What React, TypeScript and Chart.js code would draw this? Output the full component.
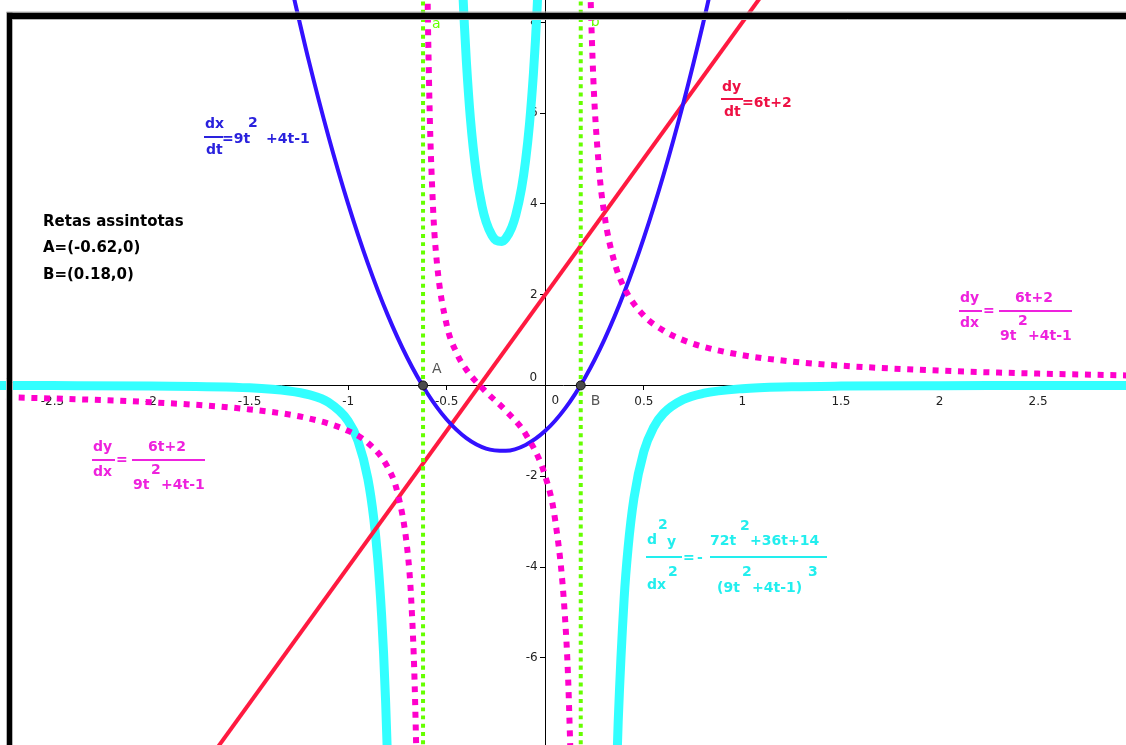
import React, { useEffect, useRef } from 'react';
import { Chart, registerables } from 'chart.js';

Chart.register(...registerables);

// ---- data ----
// dx/dt = 9t^2+4t-1 (blue parabola)
const parabolaX = [-1.3, -1.2, -1.1, -1.0, -0.9, -0.8, -0.7, -0.6, -0.5, -0.4, -0.3, -0.2, -0.1, 0, 0.1, 0.2, 0.3, 0.4, 0.5, 0.6, 0.7, 0.8, 0.9];
const parabolaY = [9.01, 7.16, 5.49, 4.0, 2.69, 1.56, 0.61, -0.16, -0.75, -1.16, -1.39, -1.44, -1.31, -1.0, -0.51, 0.16, 1.01, 2.04, 3.25, 4.64, 6.21, 7.96, 9.89];

// dy/dt = 6t+2 (red line)
const lineX = [-2.8, 3.0];
const lineY = [-14.8, 20];

// dy/dx (magenta dotted), three branches
const slopeLeftX = [-2.8, -2.5, -2.0, -1.5, -1.2, -1.0, -0.9, -0.8, -0.75, -0.7, -0.68, -0.66, -0.65, -0.64];
const slopeLeftY = [-0.254, -0.287, -0.37, -0.528, -0.726, -1.0, -1.264, -1.795, -2.353, -3.607, -4.71, -6.99, -9.38, -14.56];
const slopeMidX = [-0.61, -0.6, -0.59, -0.57, -0.55, -0.5, -0.45, -0.4, -0.3, -0.2, -0.1, 0, 0.05, 0.1, 0.12, 0.14, 0.15];
const slopeMidY = [18.2, 10.0, 6.78, 3.99, 2.72, 1.333, 0.716, 0.345, -0.144, -0.556, -1.069, -2.0, -2.958, -5.098, -6.967, -10.77, -14.68];
const slopeRightX = [0.19, 0.2, 0.21, 0.22, 0.24, 0.27, 0.3, 0.35, 0.4, 0.5, 0.6, 0.7, 0.8, 1.0, 1.25, 1.5, 2.0, 2.5, 3.0];
const slopeRightY = [36.98, 20.0, 13.76, 10.52, 7.19, 4.918, 3.762, 2.729, 2.157, 1.538, 1.207, 0.998, 0.854, 0.667, 0.526, 0.436, 0.326, 0.261, 0.217];

// d2y/dx2 (cyan thick), three branches
const curvLeftX = [-2.8, -2.5, -2.0, -1.5, -1.3, -1.2, -1.1, -1.0, -0.95, -0.9, -0.87, -0.85, -0.83, -0.82, -0.81, -0.8, -0.78];
const curvLeftY = [-0.0024, -0.004, -0.0117, -0.0525, -0.1215, -0.2029, -0.3718, -0.781, -1.221, -2.051, -2.931, -3.811, -5.074, -5.915, -6.951, -8.24, -11.93];
const curvMidX = [-0.45, -0.42, -0.41, -0.4, -0.38, -0.35, -0.32, -0.3, -0.27, -0.25, -0.22, -0.2, -0.17, -0.15, -0.12, -0.1, -0.08, -0.06, -0.05, -0.04, -0.03];
const curvMidY = [13.25, 8.88, 7.92, 7.124, 5.896, 4.679, 3.931, 3.604, 3.301, 3.198, 3.173, 3.242, 3.48, 3.745, 4.352, 4.946, 5.757, 6.871, 7.583, 8.43, 9.446];
const curvRightX = [0.3, 0.35, 0.36, 0.37, 0.4, 0.42, 0.45, 0.5, 0.55, 0.6, 0.7, 0.8, 1.0, 1.25, 1.5, 2.0, 2.5, 3.0];
const curvRightY = [-30.36, -10.44, -8.755, -7.408, -4.702, -3.587, -2.483, -1.4565, -0.921, -0.6158, -0.311, -0.1762, -0.0706, -0.0291, -0.0143, -0.0047, -0.002, -0.001];

// vertical asymptotes and points A, B
const asymptoteX = [-0.62, 0.18];
const asymptoteSpan = [-9, 9];
const pointNames = ['A', 'B'];
const pointX = [-0.62, 0.18];
const pointY = [0, 0];

// axes
const xMin = -2.766;
const xMax = 2.946;
const yMin = -7.92;
const yMax = 8.49;
const xStep = 0.5;
const yStep = 2;

const infoLines = ['Retas assintotas', 'A=(-0.62,0)', 'B=(0.18,0)'];

// ---- colours ----
const BLUE = '#3311ff';
const RED = '#ff1a40';
const MAGENTA = '#ff00cc';
const CYAN = '#33ffff';
const GREEN = '#66ff00';

const BLUE_T = '#2a22dd';
const RED_T = '#ee1144';
const MAG_T = '#ee22dd';
const CYAN_T = '#22eeee';

const zip = (xs: number[], ys: number[]) => xs.map((x, i) => ({ x, y: ys[i] }));

const FONT_F = "bold 14px 'DejaVu Sans', sans-serif";
const FONT_INFO = "bold 15px 'DejaVu Sans', sans-serif";
const FONT_TICK = "12px 'DejaVu Sans', sans-serif";

type Piece = [string, number, number];
type Formula = { color: string; pieces: Piece[]; bars: [number, number, number][] };

const shift = (f: Formula, dx: number, dy: number): Formula => ({
  color: f.color,
  pieces: f.pieces.map(([t, x, y]) => [t, x + dx, y + dy] as Piece),
  bars: f.bars.map(([a, b, y]) => [a + dx, b + dx, y + dy] as [number, number, number]),
});

const slopeFormulaRight: Formula = {
  color: MAG_T,
  pieces: [['dy', 960, 298], ['dx', 960, 323], ['=', 983, 311], ['6t+2', 1015, 298], ['9t', 1000, 336], ['2', 1018, 321], ['+4t-1', 1028, 336]],
  bars: [[959, 982, 311], [999, 1072, 311]],
};

const formulas: Formula[] = [
  {
    color: BLUE_T,
    pieces: [['dx', 205, 124], ['dt', 206, 150], ['=9t', 222, 139], ['2', 248, 123], ['+4t-1', 266, 139]],
    bars: [[204, 223, 137]],
  },
  {
    color: RED_T,
    pieces: [['dy', 722, 87], ['dt', 724, 112], ['=6t+2', 742, 103]],
    bars: [[721, 743, 99]],
  },
  slopeFormulaRight,
  shift(slopeFormulaRight, -867, 149),
  {
    color: CYAN_T,
    pieces: [['d', 647, 540], ['2', 658, 525], ['y', 667, 542], ['dx', 647, 585], ['2', 668, 572], ['=', 683, 558], ['-', 697, 558],
      ['72t', 710, 541], ['2', 740, 526], ['+36t+14', 750, 541], ['(9t', 717, 588], ['2', 742, 572], ['+4t-1)', 752, 588], ['3', 808, 572]],
    bars: [[646, 682, 557], [710, 827, 557]],
  },
];

const zeroPadding = (scale: any) => {
  scale.paddingLeft = 0;
  scale.paddingRight = 0;
  scale.paddingTop = 0;
  scale.paddingBottom = 0;
};

const tickLabel = (v: any) => (Math.abs(Number(v)) < 1e-9 ? '' : String(Number(v)));

const overlayPlugin = {
  id: 'overlay',
  afterDraw(chart: any) {
    const ctx = chart.ctx as CanvasRenderingContext2D;
    const xs = chart.scales.x;
    const ys = chart.scales.y;
    ctx.save();
    ctx.textAlign = 'left';
    ctx.textBaseline = 'middle';

    // "0" labels at the origin
    ctx.font = FONT_TICK;
    ctx.fillStyle = '#222';
    ctx.textAlign = 'center';
    ctx.fillText('0', xs.getPixelForValue(0) + 10, ys.getPixelForValue(0) + 15);
    ctx.fillText('0', xs.getPixelForValue(0) - 12, ys.getPixelForValue(0) - 8);

    // point labels
    ctx.font = "14px 'DejaVu Sans', sans-serif";
    ctx.fillStyle = '#555';
    ctx.textAlign = 'left';
    ctx.fillText(pointNames[0], xs.getPixelForValue(pointX[0]) + 9, ys.getPixelForValue(pointY[0]) - 16);
    ctx.fillText(pointNames[1], xs.getPixelForValue(pointX[1]) + 10, ys.getPixelForValue(pointY[1]) + 16);

    // asymptote labels near the top
    ctx.fillStyle = GREEN;
    ctx.fillText('a', xs.getPixelForValue(asymptoteX[0]) + 9, 24);
    ctx.fillText('b', xs.getPixelForValue(asymptoteX[1]) + 10, 22);

    // info text
    ctx.font = FONT_INFO;
    ctx.fillStyle = '#000';
    infoLines.forEach((t, i) => ctx.fillText(t, 43, 222 + i * 26.5));

    // formulas
    ctx.font = FONT_F;
    for (const f of formulas) {
      ctx.fillStyle = f.color;
      for (const [t, x, y] of f.pieces) ctx.fillText(t, x, y);
      for (const [a, b, y] of f.bars) ctx.fillRect(a, y - 1, b - a, 2);
    }

    // window frame
    ctx.fillStyle = '#000';
    ctx.fillRect(6.5, 12.5, 1126, 6.5);
    ctx.fillRect(6.5, 12.5, 6, 745);
    ctx.strokeStyle = '#b4b4b4';
    ctx.lineWidth = 1;
    ctx.beginPath();
    ctx.moveTo(6.5, 745); ctx.lineTo(6.5, 12); ctx.lineTo(1126, 12);
    ctx.moveTo(12.5, 745); ctx.lineTo(12.5, 19.5); ctx.lineTo(1126, 19.5);
    ctx.stroke();
    ctx.restore();
  },
};

export default function App() {
  const ref = useRef<HTMLCanvasElement | null>(null);
  useEffect(() => {
    if (!ref.current) return;
    const common = { pointRadius: 0, fill: false, cubicInterpolationMode: 'monotone' as const };
    const chart = new Chart(ref.current, {
      type: 'line',
      data: {
        datasets: [
          { data: zip(pointX, pointY), showLine: false, pointRadius: 4.5, pointBackgroundColor: '#4a4a4a', pointBorderColor: '#111', pointBorderWidth: 1 } as any,
          { ...common, data: zip([asymptoteX[0], asymptoteX[0]], asymptoteSpan), borderColor: GREEN, borderWidth: 4, borderDash: [4, 4.3] },
          { ...common, data: zip([asymptoteX[1], asymptoteX[1]], asymptoteSpan), borderColor: GREEN, borderWidth: 4, borderDash: [4, 4.3] },
          { ...common, data: zip(slopeLeftX, slopeLeftY), borderColor: MAGENTA, borderWidth: 6, borderDash: [6, 6.7] },
          { ...common, data: zip(slopeMidX, slopeMidY), borderColor: MAGENTA, borderWidth: 6, borderDash: [6, 6.7] },
          { ...common, data: zip(slopeRightX, slopeRightY), borderColor: MAGENTA, borderWidth: 6, borderDash: [6, 6.7] },
          { ...common, data: zip(parabolaX, parabolaY), borderColor: BLUE, borderWidth: 4 },
          { ...common, data: zip(lineX, lineY), borderColor: RED, borderWidth: 4 },
          { ...common, data: zip(curvLeftX, curvLeftY), borderColor: CYAN, borderWidth: 9 },
          { ...common, data: zip(curvMidX, curvMidY), borderColor: CYAN, borderWidth: 9 },
          { ...common, data: zip(curvRightX, curvRightY), borderColor: CYAN, borderWidth: 9 },
        ],
      },
      options: {
        animation: false,
        responsive: false,
        devicePixelRatio: 1,
        layout: { padding: 0, autoPadding: false },
        plugins: { legend: { display: false }, tooltip: { enabled: false } },
        scales: {
          x: {
            type: 'linear',
            min: xMin,
            max: xMax,
            position: { y: 0 } as any,
            afterFit: zeroPadding,
            border: { display: true, color: '#000', width: 1 },
            grid: { drawOnChartArea: false, drawTicks: true, tickLength: 4, color: '#000' },
            ticks: {
              stepSize: xStep,
              includeBounds: false,
              autoSkip: false,
              maxRotation: 0,
              padding: 5,
              color: '#222',
              font: { family: "'DejaVu Sans', sans-serif", size: 12 },
              callback: tickLabel,
            },
          },
          y: {
            type: 'linear',
            min: yMin,
            max: yMax,
            position: { x: 0 } as any,
            afterFit: zeroPadding,
            border: { display: true, color: '#000', width: 1 },
            grid: { drawOnChartArea: false, drawTicks: true, tickLength: 5, color: '#000' },
            ticks: {
              stepSize: yStep,
              includeBounds: false,
              autoSkip: false,
              padding: 2,
              color: '#222',
              font: { family: "'DejaVu Sans', sans-serif", size: 12 },
              callback: (v: any) => { const s = tickLabel(v); return s ? s + '  ' : s; },
            },
          },
        },
      },
      plugins: [overlayPlugin],
    });
    return () => chart.destroy();
  }, []);

  return (
    <div style={{ position: 'fixed', left: 0, top: 0, width: 1126, height: 745, background: '#fff' }}>
      <canvas ref={ref} width={1126} height={745} style={{ display: 'block' }} />
    </div>
  );
}
